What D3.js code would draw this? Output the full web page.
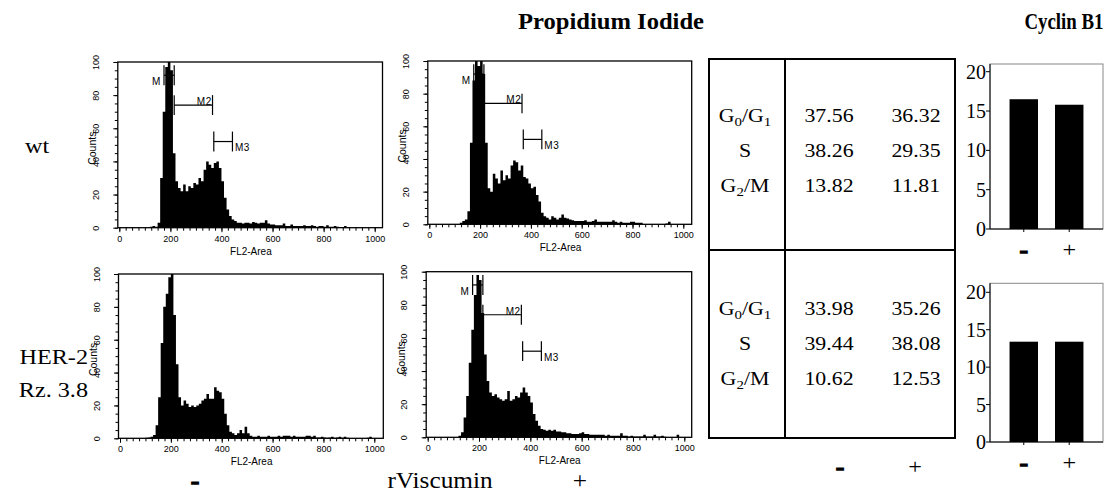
<!DOCTYPE html>
<html>
<head>
<meta charset="utf-8">
<script src="https://cdn.jsdelivr.net/npm/d3@7"></script>
<style>
body { margin: 0; background: #fff; }
svg { display: block; }
</style>
</head>
<body>
<svg id="fig" width="1104" height="497"></svg>
<script>
// FACS histograms, counts per 10-channel bin starting at channel 0
var binWidth = 10;
var wtMinus = [0,0,0,0,0,0,0,0,0,0,0,0,0.5,1,0.5,3,30,70,97,100,95,45,28,24,22,26,22,25,24,27,26,30,28,35,40,38,36,39,40,36,28,18,11,7,5,4,3,3,2.5,3,3,2.5,3.5,3,2.5,3,3,4.5,2.5,2,2,1.5,1.5,1.5,2.5,1,1,2,1,1,1,1,1.5,1,1,1.5,1,0.5,1,1,0.5,1.5,0.5,0.5,1,0.5,0.3,0.3,1,0,0,0,0,0,0,0,0,0,0,0,0,0];
var wtPlus = [0,0,0,0,0,0,0,0,0,0,0,0,1,2,3,8,50,88,100,97,100,92,50,22,20,31,28,25,33,27,30,28,36,39,38,33,36,29,28,25,22,23,18,14,7,5,4,3,5,4,3,4,6,4,3.5,3,2.5,2,2,2,2,2.5,1.5,1.5,2,3,1.5,1.5,1.5,1.5,1.5,1.5,2.5,1.5,1,1.5,1,1,1,1.5,1.5,1,1,1,0,0,0,0,0,0,0,0,0,0.5,1.5,0,0,0,0,0,0,0];
var herMinus = [0,0,0,0,0,0,0,0,0,0,0.3,0.5,1,2,8,25,58,80,88,98,100,75,45,25,20,23,21,19,20,19,20,21,23,24,27,24,24,31,29,28,24,15,8,4,3,2,3,5,3,7,3,1.5,1,1,1.5,1,1,1,1.5,1,1,1,1.5,1,1.5,1.5,1.5,1,1.5,1,1,1,1,1.5,1.5,1,1.5,0.5,0.5,1,0.5,0.3,0.5,1,0.3,0.5,1,0.3,1,0.3,0,0,0,0,0,0,0,0.3,1,0,0,0];
var herPlus = [0,0,0,0,0,0,0,0,0,0,0,0,1,3,12,25,45,65,86,98,95,75,50,34,27,25,26,24,23,22,23,28,22,23,25,24,27,30,27,25,21,14,10,7,5,4.5,4,4.5,4,4.5,3.5,3.5,3,3,2.5,2.5,2,2,2,2.5,3,2,2,1.5,1.5,1.5,1.5,1.5,1.5,1,1.5,1,1,1,1,2.5,1,1,0.5,1,0.5,0.5,0.5,0.5,1.5,0.5,0.5,0.5,1.5,0.5,0.5,1,0.3,0,0,0,0,1.5,0,0,0,0];

// marker gates (channels) and their height in counts
var gateNames = ["M", "M2", "M3"];
var gateLo = [175, 215, 370];
var gateHi = [215, 365, 443];
var gateLevel = [92, 74, 52];

// cell cycle phases (%)
var phases = ["G0/G1", "S", "G2/M"];
var wtMinusPI = [37.56, 38.26, 13.82];
var wtPlusPI = [36.32, 29.35, 11.81];
var herMinusPI = [33.98, 39.44, 10.62];
var herPlusPI = [35.26, 38.08, 12.53];

// cyclin B1
var cyclinGroups = ["-", "+"];
var cyclinWt = [16.5, 15.8];
var cyclinHer = [13.4, 13.4];
var cyclinTicks = [0, 5, 10, 15, 20];

var svg = d3.select("#fig");
var serif = "'Liberation Serif','Times New Roman',Times,serif";
var sans = "'Liberation Sans',Arial,Helvetica,sans-serif";

function serifText(x, y, str, size, sx, anchor, weight) {
  var t = svg.append("text")
    .attr("transform", "translate(" + x + "," + y + ") scale(" + sx + ",1)")
    .attr("text-anchor", anchor || "start")
    .style("font-family", serif)
    .style("font-size", size + "px")
    .style("font-weight", weight || "normal")
    .style("fill", "#000")
    .text(str);
  // the minus signs in the figure are heavy dashes
  if (str == "-") t.style("stroke", "#000").style("stroke-width", 1.6);
  return t;
}

// ---- histograms
var panels = [
  {data: wtMinus, left: 119.3, right: 374.7, frameRight: 382.5, bottom: 227.7, top: 62, gates: true},
  {data: wtPlus, left: 429.3, right: 683.3, frameRight: 691.7, bottom: 224.3, top: 61, gates: true},
  {data: herMinus, left: 120, right: 374.3, frameRight: 383.3, bottom: 438.3, top: 274, gates: false},
  {data: herPlus, left: 427.7, right: 684.3, frameRight: 691.7, bottom: 437.3, top: 271.7, gates: true}
];

panels.forEach(function(p) {
  var x = d3.scaleLinear().domain([0, 1000]).range([p.left, p.right]);
  var y = d3.scaleLinear().domain([0, 100]).range([p.bottom, p.top]);
  var g = svg.append("g");

  var bins = p.data.map(function(v, i) { return {ch: i * binWidth, v: v}; });
  bins.push({ch: bins.length * binWidth, v: 0});

  var area = d3.area()
    .curve(d3.curveStepAfter)
    .x(function(d) { return x(d.ch); })
    .y0(y(0))
    .y1(function(d) { return y(Math.min(d.v, 100)); });

  g.append("path").datum(bins).attr("d", area).attr("fill", "#000");

  g.append("rect")
    .attr("x", x(0) - 1.5).attr("y", y(100))
    .attr("width", p.frameRight - x(0) + 1.5).attr("height", y(0) - y(100))
    .attr("fill", "none").attr("stroke", "#000").attr("stroke-width", 1.3);

  // x axis
  var xMinor = g.append("g").attr("transform", "translate(0," + y(0) + ")")
    .call(d3.axisBottom(x).tickValues(d3.range(0, 1001, 25)).tickSize(3).tickFormat(""));
  var xMajor = g.append("g").attr("transform", "translate(0," + y(0) + ")")
    .call(d3.axisBottom(x).tickValues(d3.range(0, 1001, 200)).tickSize(4.5).tickPadding(3).tickFormat(d3.format("d")));
  [xMinor, xMajor].forEach(function(a) { a.select(".domain").remove(); });
  xMajor.selectAll("text").style("font-family", sans).style("font-size", "9px").attr("fill", "#000");

  g.append("text")
    .attr("x", (x(0) + p.frameRight) / 2).attr("y", y(0) + 27)
    .attr("text-anchor", "middle")
    .style("font-family", sans).style("font-size", "10px")
    .text("FL2-Area");

  // y axis
  var yMinor = g.append("g").attr("transform", "translate(" + (x(0) - 1.5) + ",0)")
    .call(d3.axisLeft(y).tickValues(d3.range(0, 101, 5)).tickSize(3).tickFormat(""));
  var yMajor = g.append("g").attr("transform", "translate(" + (x(0) - 1.5) + ",0)")
    .call(d3.axisLeft(y).tickValues(d3.range(0, 101, 20)).tickSize(4.5));
  [yMinor, yMajor].forEach(function(a) { a.select(".domain").remove(); });
  yMajor.selectAll("text")
    .attr("x", null).attr("dy", null)
    .attr("transform", "translate(-19,0) rotate(-90)")
    .attr("text-anchor", "middle")
    .style("font-family", sans).style("font-size", "9px").attr("fill", "#000");

  g.append("text")
    .attr("transform", "translate(" + (x(0) - 23) + "," + y(48) + ") rotate(-90)")
    .attr("text-anchor", "middle")
    .style("font-family", sans).style("font-size", "10.5px")
    .text("Counts");

  // markers
  if (p.gates) {
    gateNames.forEach(function(name, i) {
      var yy = y(gateLevel[i]);
      var t = y(gateLevel[i] + 6) - yy;
      g.append("line").attr("x1", x(gateLo[i])).attr("x2", x(gateHi[i]))
        .attr("y1", yy).attr("y2", yy).attr("stroke", "#000").attr("stroke-width", 1.2);
      [gateLo[i], gateHi[i]].forEach(function(c) {
        g.append("line").attr("x1", x(c)).attr("x2", x(c))
          .attr("y1", yy + t).attr("y2", yy - t).attr("stroke", "#000").attr("stroke-width", 1.2);
      });
      var lab = g.append("text")
        .style("font-family", sans).style("font-size", "10px").style("letter-spacing", "0.5px").text(name);
      if (i == 0) lab.attr("x", x(128)).attr("y", y(86));
      if (i == 1) lab.attr("x", x(gateHi[i] - 3)).attr("y", yy).attr("text-anchor", "end");
      if (i == 2) lab.attr("x", x(gateHi[i] + 10)).attr("y", yy - t);
    });
  }
});

// ---- row / column labels
serifText(25, 153, "wt", 22, 1.1);
serifText(88, 364, "HER-2", 22, 1.1, "end");
serifText(88, 397, "Rz. 3.8", 22, 1.1, "end");
serifText(195, 488, "-", 22, 1.1, "middle", "bold");
serifText(440, 488, "rViscumin", 23, 1.1, "middle");
serifText(580, 488, "+", 23, 1.1, "middle");

serifText(611, 29, "Propidium Iodide", 23, 1.07, "middle", "bold");
serifText(1064, 29, "Cyclin B1", 23, 0.82, "middle", "bold");

// ---- table
var tLeft = 709, tRight = 955, tDiv = 785, tTop = 59, tMid = 250, tBottom = 438;
svg.append("rect").attr("x", tLeft).attr("y", tTop).attr("width", tRight - tLeft).attr("height", tBottom - tTop)
  .attr("fill", "none").attr("stroke", "#000").attr("stroke-width", 2);
svg.append("line").attr("x1", tDiv).attr("x2", tDiv).attr("y1", tTop).attr("y2", tBottom)
  .attr("stroke", "#000").attr("stroke-width", 2);
svg.append("line").attr("x1", tLeft).attr("x2", tRight).attr("y1", tMid).attr("y2", tMid)
  .attr("stroke", "#000").attr("stroke-width", 2);

function phaseLabel(x, y, label) {
  var t = serifText(x, y, "", 19, 1.15, "middle");
  var lowered = false;
  label.split(/(\d)/).forEach(function(part) {
    if (part === "") return;
    if (/\d/.test(part)) {
      t.append("tspan").attr("dy", 4).style("font-size", "13px").text(part);
      lowered = true;
    } else {
      t.append("tspan").attr("dy", lowered ? -4 : 0).text(part);
      lowered = false;
    }
  });
}

var tables = [
  {center: 151, minus: wtMinusPI, plus: wtPlusPI},
  {center: 344, minus: herMinusPI, plus: herPlusPI}
];
tables.forEach(function(tb) {
  var row = d3.scalePoint().domain(phases).range([tb.center - 35, tb.center + 35]);
  phases.forEach(function(ph, i) {
    phaseLabel(745, row(ph) + 6, ph);
    serifText(829, row(ph) + 6, tb.minus[i].toFixed(2), 19, 1.15, "middle");
    serifText(916, row(ph) + 6, tb.plus[i].toFixed(2), 19, 1.15, "middle");
  });
});
serifText(840, 474, "-", 22, 1.1, "middle", "bold");
serifText(915, 474, "+", 22, 1.1, "middle");

// ---- cyclin B1 bars
function cyclinChart(vals, top, bottom, top20) {
  var x = d3.scaleBand().domain(cyclinGroups).range([990, 1103]).paddingInner(0.374).paddingOuter(0.43);
  var y = d3.scaleLinear().domain([0, 20]).range([bottom, top20]);
  var g = svg.append("g");

  g.append("rect").attr("x", 990).attr("y", top).attr("width", 113).attr("height", bottom - top)
    .attr("fill", "none").attr("stroke", "#888").attr("stroke-width", 1);

  g.selectAll(".bar").data(vals).enter().append("rect")
    .attr("x", function(d, i) { return x(cyclinGroups[i]); })
    .attr("y", function(d) { return y(d); })
    .attr("width", x.bandwidth())
    .attr("height", function(d) { return y(0) - y(d); })
    .attr("fill", "#000");

  g.append("line").attr("x1", 990).attr("x2", 990).attr("y1", top).attr("y2", bottom).attr("stroke", "#000");
  g.append("line").attr("x1", 990).attr("x2", 1103).attr("y1", bottom).attr("y2", bottom).attr("stroke", "#000");

  cyclinTicks.forEach(function(t) {
    g.append("line").attr("x1", 986).attr("x2", 990).attr("y1", y(t)).attr("y2", y(t)).attr("stroke", "#000");
    serifText(986, y(t) + 7, String(t), 20, 1, "end");
  });
  cyclinGroups.forEach(function(c) {
    var cx = x(c) + x.bandwidth() / 2;
    g.append("line").attr("x1", cx).attr("x2", cx).attr("y1", bottom).attr("y2", bottom + 3).attr("stroke", "#000");
    serifText(cx, bottom + 28, c, 22, 1.1, "middle", c == "-" ? "bold" : "normal");
  });
}
cyclinChart(cyclinWt, 64, 229, 71.7);
cyclinChart(cyclinHer, 283.3, 442, 292.3);
</script>
</body>
</html>
